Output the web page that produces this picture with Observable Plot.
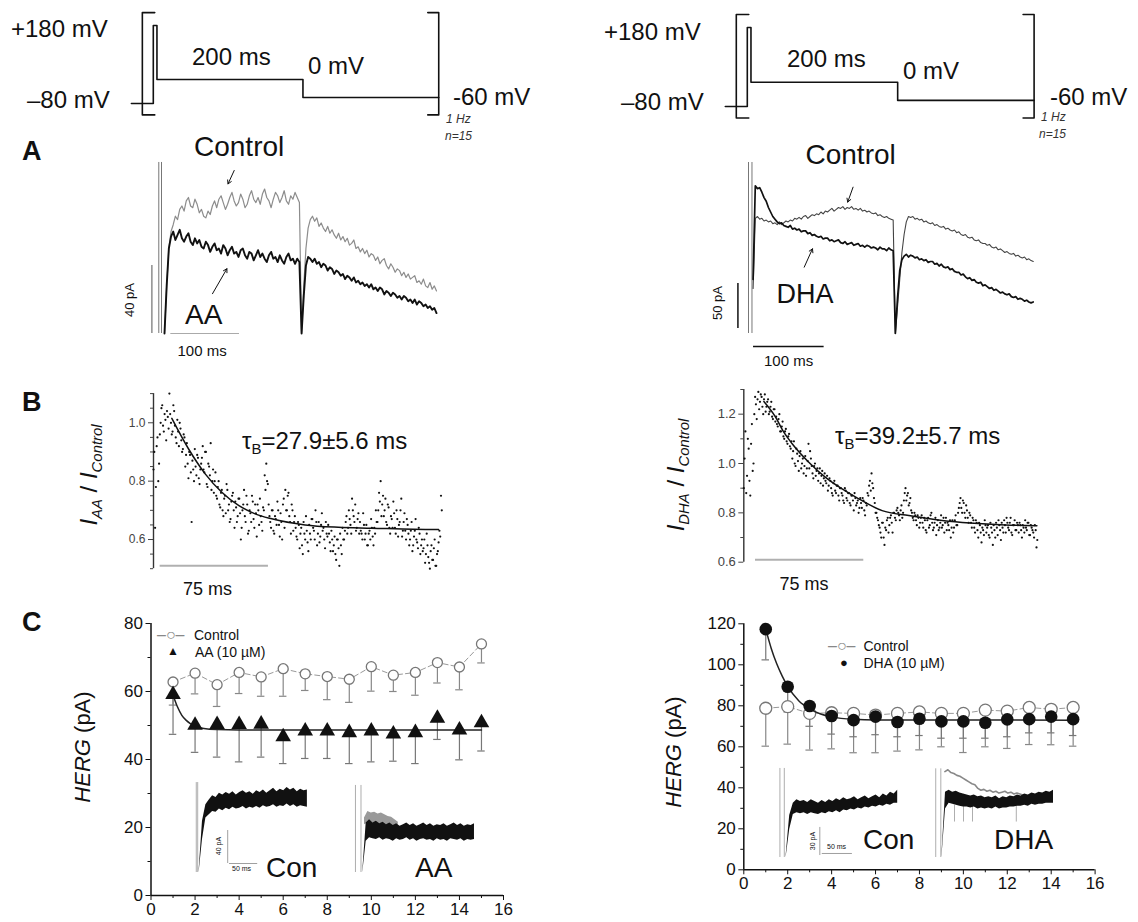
<!DOCTYPE html>
<html>
<head>
<meta charset="utf-8">
<script src="https://cdn.jsdelivr.net/npm/d3@7"></script>
<script src="https://cdn.jsdelivr.net/npm/@observablehq/plot@0.6"></script>
<style>
  html, body { margin: 0; padding: 0; background: #fff; }
  #page { position: relative; width: 1138px; height: 922px; overflow: hidden; background: #fff;
          font-family: "Liberation Sans", Arial, Helvetica, sans-serif; color: #111; }
  #page svg { position: absolute; }
  sub { font-size: 0.62em; vertical-align: -0.35em; line-height: 0; }
</style>
</head>
<body>
<div id="page"></div>
<script>
// ---------------- DATA ----------------
// Voltage protocol (ms, mV)
const protoT  = [-30, 0, 0, 5, 5, 205, 205, 391];
const protoMv = [-80, -80, 180, 180, 0, 0, -60, -60];
const bracketLT = [2, -15, -15, 2];
const bracketRT = [376, 391, 391, 376];
const bracketMv = [223, 223, -118, -118];

// Panel A left: currents (pA), one sample every 3.2 ms
const alDt = 3.2;
const alCtl = [0,28,50,60,64,69,67,73,75,72, 78,80,75,74,79,76,71,73,69,68, 72,70,75,78,74,79,81,77,73,76,
  80,83,78,75,77,82,79,74,76,81, 84,79,77,80,76,82,85,80,78,74, 79,83,81,77,80,84,78,76,81,79, 83,80,77,
  0,
  28,50,62,67,69,66,68,63,65,62, 60,63,59,61,58,56,59,55,57,54, 56,52,53,55,50,51,48,50,47,49,
  45,47,46,43,45,41,43,44,40,38, 41,39,36,38,37,34,36,33,35,32, 33,34,30,31,29,32,28,27,30,26, 28,25];
const alAA = [0,28,50,57,60,55,58,61,56,54, 57,59,54,52,56,53,55,51,50,54, 52,48,51,53,49,50,47,52,50,46,
  49,51,47,48,45,49,50,46,44,48, 47,43,46,49,45,47,44,42,46,48, 44,45,42,46,43,41,45,47,43,44, 41,44,42,
  0,
  22,40,45,44,42,44,41,42,39,41, 40,37,39,38,35,37,36,34,35,32, 34,33,31,33,30,31,29,30,28,29,
  27,29,26,27,25,27,26,23,25,24, 22,24,23,21,22,20,22,21,19,20, 18,20,17,19,18,16,17,15,16,14, 15,12];
const alArtifactT = [-8.4, -4.4];
const alArtifactTop = 100.6;
const alBarPA = [0, 40], alBarPAt = -18.5;
const alBarMs = [9.3, 110.3];
const alArrows = [{x1: 102.5, y1: 95.9, x2: 93.4, y2: 88}, {x1: 70.6, y1: 23.4, x2: 91.8, y2: 38.1}];

// Panel A right: currents (pA), one sample every 3.1 ms
const arDt = 3.1;
const arDHA = [60,164,161,162,157,151,147,140,135,130, 127,124,122,123,120,119,118,120,116,117,
  115,116,113,114,114,111,112,109,110,108, 107,108,105,106,106,103,104,102,103,104,
  101,100,102,99,100,101,98,99,100,97, 98,96,98,97,95,96,95,93,96,94, 94,92,95,93,92,
  0,
  40,70,82,86,88,85,87,86,84,85, 82,83,81,82,79,80,80,77,78,75, 77,74,73,74,71,72,69,68,68,65,
  66,63,61,62,59,60,57,56,57,53, 54,52,50,51,48,49,47,45,46,44, 43,44,41,40,41,38,39,38,36,37, 35,34,35];
const arCtl = [50,128,130,127,128,125,126,124,125,122, 123,121,124,121,123,125,124,126,125,128,
  127,129,127,130,131,128,130,132,131,133, 132,135,133,136,135,137,139,136,138,140,
  139,141,138,140,139,141,138,139,137,139, 136,137,135,136,134,133,134,131,132,130, 129,130,128,127,126,
  0,
  30,60,90,110,124,130,129,130,127,128, 126,127,124,125,123,122,123,120,121,119, 118,119,116,117,115,114,115,112,113,110,
  109,110,107,106,107,104,103,104,101,100, 100,98,99,96,95,96,93,94,92,90, 91,89,88,89,86,87,85,84,85,82, 83,81,80];
const arArtifactT = [-6.5, -1.6];
const arArtifactTop = 190;
const arBarPA = [5.6, 55.6], arBarPAt = -21.5;
const arBarMs = [0.6, 100.6], arBarMsY = -14.4;
const arArrows = [{x1: 141.6, y1: 162.6, x2: 134, y2: 146}, {x1: 72.4, y1: 73.7, x2: 84.1, y2: 94.1}];

// Panel B: I_drug / I_control ratios (two interleaved sample sets, left every 1.1 ms, right every 1.12 ms)
const blDt = 1.1;
const blRatio = [0.84,0.64,0.92,0.80,0.96,1.05,0.99,1.03,0.94,1.02, 1.1,1.0,0.97,1.04,0.95,1.01,0.92,0.98,0.9,0.96,
  0.85,0.93,0.81,0.89,0.66,0.84,0.91,0.82,0.88,0.79, 0.86,0.92,0.83,0.9,0.78,0.85,0.93,0.8,0.76,0.83,
  0.74,0.8,0.71,0.77,0.68,0.75,0.79,0.7,0.66,0.73, 0.76,0.64,0.71,0.68,0.74,0.6,0.7,0.77,0.66,0.72,
  0.63,0.69,0.75,0.67,0.72,0.61,0.7,0.74,0.66,0.71, 0.82,0.86,0.79,0.68,0.64,0.7,0.62,0.67,0.73,0.65,
  0.69,0.6,0.74,0.77,0.7,0.76,0.66,0.72,0.63,0.68, 0.61,0.66,0.57,0.64,0.55,0.62,0.68,0.59,0.65,0.6,
  0.67,0.63,0.7,0.58,0.66,0.61,0.69,0.64,0.57,0.62, 0.65,0.59,0.63,0.56,0.61,0.53,0.6,0.51,0.58,0.64,
  0.6,0.66,0.62,0.7,0.65,0.74,0.68,0.72,0.64,0.69, 0.66,0.62,0.69,0.6,0.65,0.58,0.63,0.67,0.61,0.64,
  0.7,0.66,0.76,0.8,0.72,0.68,0.74,0.65,0.71,0.62, 0.67,0.73,0.64,0.7,0.61,0.66,0.74,0.63,0.69,0.6,
  0.65,0.58,0.63,0.56,0.61,0.67,0.59,0.64,0.55,0.6, 0.57,0.52,0.62,0.54,0.5,0.58,0.53,0.6,0.51,0.56,0.63,0.75];
const blRatioB = [0.9,0.78,0.95,0.86,1.0,1.06,0.97,1.01,1.04,0.98, 1.03,0.96,1.06,0.99,0.93,0.97,1.0,0.94,0.91,0.95,
  0.89,0.86,0.9,0.83,0.87,0.8,0.85,0.89,0.81,0.84, 0.88,0.84,0.9,0.79,0.86,0.82,0.77,0.84,0.8,0.75,
  0.78,0.72,0.76,0.7,0.74,0.69,0.77,0.72,0.67,0.75, 0.7,0.73,0.66,0.74,0.69,0.64,0.72,0.68,0.75,0.62,
  0.7,0.66,0.73,0.64,0.69,0.72,0.65,0.68,0.63,0.7, 0.77,0.8,0.72,0.66,0.7,0.63,0.68,0.65,0.7,0.61,
  0.66,0.72,0.64,0.7,0.75,0.68,0.62,0.7,0.66,0.64, 0.6,0.65,0.62,0.58,0.66,0.6,0.63,0.56,0.62,0.67,
  0.64,0.6,0.66,0.62,0.59,0.65,0.63,0.6,0.66,0.61, 0.62,0.56,0.6,0.58,0.55,0.6,0.57,0.62,0.55,0.6,
  0.63,0.68,0.64,0.67,0.62,0.7,0.66,0.63,0.67,0.62, 0.63,0.6,0.65,0.62,0.58,0.62,0.6,0.64,0.58,0.62,
  0.66,0.7,0.73,0.68,0.75,0.7,0.66,0.72,0.64,0.68, 0.64,0.69,0.62,0.67,0.65,0.7,0.61,0.66,0.63,0.67,
  0.62,0.6,0.66,0.58,0.63,0.6,0.57,0.62,0.58,0.56, 0.6,0.55,0.58,0.52,0.56,0.53,0.57,0.51,0.55,0.59,0.61,0.7];
const blFitT = [12.7, 24.2, 35.8, 47.3, 58.9, 70.4, 81.9, 105, 128, 151, 180, 197.4];
const blFitV = [1.015, 0.911, 0.825, 0.762, 0.717, 0.688, 0.671, 0.65, 0.642, 0.639, 0.635, 0.634];
const blBar = [4.6, 79.6], blBarY = 0.51;

const brDt = 1.12;
const brRatio = [0.9,1.13,0.95,1.06,0.87,1.16,1.0,1.27,1.18,1.29, 1.25,1.27,1.2,1.28,1.23,1.26,1.21,1.25,1.18,1.22,
  1.19,1.15,1.2,1.13,1.17,1.1,1.14,1.08,1.12,1.06, 1.02,1.09,0.99,1.04,0.97,1.05,1.0,0.96,1.03,0.98,
  1.08,1.05,0.99,0.94,1.0,0.97,0.93,0.98,0.95,0.91, 0.96,0.92,0.89,0.94,0.9,0.87,0.93,0.88,0.91,0.85,
  0.9,0.87,0.84,0.89,0.85,0.88,0.83,0.87,0.81,0.86, 0.84,0.8,0.86,0.82,0.85,0.79,0.83,0.87,0.93,0.96,
  0.9,0.84,0.8,0.77,0.74,0.7,0.76,0.67,0.73,0.78, 0.75,0.79,0.72,0.8,0.77,0.82,0.79,0.81,0.78,0.85,
  0.9,0.87,0.83,0.86,0.8,0.77,0.79,0.75,0.78,0.76, 0.79,0.74,0.77,0.72,0.78,0.75,0.8,0.73,0.76,0.71,
  0.77,0.74,0.79,0.75,0.72,0.78,0.76,0.73,0.7,0.77, 0.74,0.79,0.75,0.82,0.86,0.8,0.84,0.78,0.81,0.76,
  0.79,0.74,0.77,0.72,0.76,0.7,0.75,0.68,0.73,0.77, 0.72,0.75,0.7,0.74,0.67,0.73,0.76,0.71,0.75,0.69,
  0.74,0.77,0.72,0.76,0.73,0.78,0.71,0.75,0.73,0.76, 0.72,0.75,0.7,0.74,0.77,0.73,0.76,0.71,0.74,0.72,0.75,0.66];
const brRatioB = [1.02,0.88,1.1,0.93,1.08,0.97,1.2,1.24,1.26,1.22, 1.28,1.23,1.26,1.21,1.25,1.2,1.23,1.19,1.22,1.17,
  1.16,1.18,1.13,1.15,1.11,1.13,1.09,1.11,1.07,1.09, 1.05,1.0,1.06,1.01,1.03,0.98,1.02,0.99,0.95,1.01,
  0.98,1.02,0.96,0.99,0.95,0.98,0.96,0.92,0.97,0.94, 0.93,0.95,0.91,0.93,0.88,0.92,0.89,0.91,0.87,0.9,
  0.88,0.85,0.9,0.86,0.88,0.84,0.87,0.85,0.88,0.83, 0.85,0.82,0.84,0.86,0.81,0.84,0.88,0.91,0.89,0.92,
  0.86,0.8,0.78,0.75,0.72,0.76,0.7,0.74,0.77,0.72, 0.78,0.76,0.8,0.78,0.81,0.8,0.77,0.83,0.8,0.88,
  0.85,0.88,0.84,0.81,0.78,0.8,0.77,0.79,0.74,0.78, 0.76,0.78,0.73,0.77,0.74,0.79,0.76,0.74,0.78,0.75,
  0.73,0.76,0.74,0.78,0.76,0.73,0.75,0.77,0.74,0.72, 0.77,0.75,0.8,0.84,0.82,0.85,0.8,0.83,0.78,0.8,
  0.76,0.78,0.74,0.77,0.73,0.76,0.72,0.74,0.71,0.75, 0.74,0.71,0.76,0.72,0.75,0.7,0.74,0.77,0.73,0.76,
  0.72,0.75,0.78,0.74,0.76,0.72,0.75,0.77,0.73,0.75, 0.76,0.73,0.75,0.72,0.74,0.76,0.71,0.75,0.73,0.7,0.73,0.69];
const brFitT = [13.9, 22, 27.7, 33.5, 45, 56.6, 68.1, 79.6, 95.8, 114.3, 137.4, 181.2, 203];
const brFitV = [1.251, 1.188, 1.127, 1.08, 1.005, 0.944, 0.897, 0.857, 0.809, 0.789, 0.769, 0.751, 0.748];
const brBar = [8.1, 83.1], brBarY = 0.61;

// Panel C: HERG current (pA) per pulse
const pulses = [1,2,3,4,5,6,7,8,9,10,11,12,13,14,15];
const ctlL    = [62.8,65.4,62,65.6,64.3,66.7,65.2,64.4,63.6,67.3,64.8,65.6,68.5,67.2,74];
const ctlLlow = [56,59.3,55.6,59.4,58.6,58.6,60.3,57.6,56.8,60.1,60,58.9,62.5,60.5,68.4];
const aaL     = [59.1,50.1,50.3,50.3,50.4,46.7,48.4,48.4,47.9,48.4,47.5,47.9,52.1,48.7,50.8];
const aaLlow  = [47.4,42.1,40.7,39.3,40.7,38.8,40.3,40.3,38.8,39.3,39.5,38.8,45.9,39.9,42.5];
const aaFitP  = [1, 1.2, 1.4, 1.6, 1.8, 2, 2.4, 3, 4, 15];
const aaFitV  = [59, 55.5, 53, 51.5, 50.5, 49.8, 49.1, 48.8, 48.7, 48.7];

const dhaR    = [117.4,89.3,79.9,75,73,74.7,72.1,73.7,72.4,72.4,71.7,73.4,73.5,74.7,73.5];
const dhaRlow = [102.4,77,70,66.2,64.9,65.9,64.9,65.5,64.2,64.2,64.2,64.9,66.8,66.8,65.5];
const ctlR    = [78.8,79.6,76.3,76.6,76.3,75.5,76.3,77,76.3,76.3,77.9,77.4,79.2,78.3,79.2];
const ctlRlow = [60.3,61.3,58.4,59,57.1,57.1,57.9,58.5,60,57.2,60,59.2,61.1,61,60.3];
const dhaFitP = [1, 1.25, 1.5, 1.75, 2, 2.5, 3, 3.5, 4, 5, 6, 15];
const dhaFitV = [117.4, 108, 100.5, 94.5, 89.5, 82.5, 78.5, 76, 74.6, 73.4, 73.1, 73];

const cTicksXMajor = [0,2,4,6,8,10,12,14,16];
const cTicksXMinor = [1,3,5,7,9,11,13,15];
const cLTicksY = [0,20,40,60,80], cLTicksYMinor = [10,30,50,70];
const cRTicksY = [0,20,40,60,80,100,120], cRTicksYMinor = [10,30,50,70,90,110];
const bLTicks = [0.6,0.8,1.0], bLMinor = [0.5,0.55,0.65,0.7,0.75,0.85,0.9,0.95,1.05,1.1];
const bRTicks = [0.6,0.8,1.0,1.2], bRMinor = [0.7,0.9,1.1,1.3];

// Panel C insets: bands of superimposed sweeps (pA), every 6 ms
const inDt = 6;
const conLHi = [2,62,82,88,93,91,96,94,97,95,98,94,97,99,96,98,95,99,97,100,96,99,102,98,101,99,103,100,102,98,101,99,100];
const conLLo = [0,40,66,70,74,73,77,75,78,76,79,77,78,80,77,79,78,80,78,81,79,80,82,79,81,80,83,80,82,79,81,80,79];
const aaInHi = [2,60,64,60,62,59,61,58,60,57,59,56,58,60,57,59,56,58,60,57,59,56,58,57,59,56,58,60,57,59,56,58,57,59];
const aaInLo = [0,38,42,41,40,42,39,41,40,38,41,39,40,42,39,41,38,40,41,39,40,38,41,39,40,38,41,40,39,41,38,40,39,40];
const aaInCtlHi = [66,74,72,73,71,72,70,68,67,64,61];
const aaInCtlLo = [58,60,59,60,58,59,58,57,57,56,57];
const conRHi = [2,45,58,62,60,61,59,62,60,58,61,59,62,60,63,61,64,62,63,65,62,64,66,63,65,67,64,68,66,70,68,72];
const conRLo = [0,30,46,48,47,48,46,48,47,46,48,47,49,48,50,48,51,50,52,51,53,52,54,53,55,54,56,55,57,56,58,58];
const dhaInHi = [2,70,72,70,71,69,68,67,66,67,65,66,64,65,64,66,63,65,64,66,65,67,66,68,67,69,68,70,69,71,70,72];
const dhaInLo = [0,52,58,57,56,55,54,54,53,54,52,53,52,53,52,54,52,53,53,54,54,55,55,56,55,57,56,57,57,58,58,58];
const dhaInCtl = [92,94,91,90,88,87,85,83,81,79,78,74,72,73,71,72,70,71,69,70,71,69,70,68,69,68,67,66]; // every 5 ms from 5 ms
const dhaInSpikeT = [21, 36, 51, 124];

// ---------------- BUILD ----------------
const W = 1138, H = 922;
const FONT = '"Liberation Sans", Arial, Helvetica, sans-serif';
const page = document.getElementById("page");
const INK = "#111";

function ov(xd, xr, yd, yr, marks) {
  const svg = Plot.plot({
    width: W, height: H, margin: 0,
    x: {domain: xd, range: xr, axis: null},
    y: {domain: yd, range: yr, axis: null},
    style: {background: "transparent", overflow: "visible", left: "0px", top: "0px", fontFamily: FONT},
    marks
  });
  page.appendChild(svg);
}
function sized(left, top, opts) {
  const svg = Plot.plot({...opts, style: {background: "transparent", overflow: "visible", left: left + "px", top: top + "px", fontFamily: FONT, color: INK}});
  page.appendChild(svg);
}
function label(html, left, capTop, size, extra = "") {
  const d = document.createElement("div");
  d.innerHTML = html;
  d.style.cssText = `position:absolute;left:${left}px;top:${capTop - 0.13 * size}px;font-size:${size}px;line-height:1;white-space:nowrap;${extra}`;
  page.appendChild(d);
}
function vlabel(html, cx, cy, size, extra = "") {
  const d = document.createElement("div");
  d.innerHTML = html;
  d.style.cssText = `position:absolute;left:${cx}px;top:${cy}px;font-size:${size}px;line-height:1;white-space:nowrap;transform:translate(-50%,-50%) rotate(-90deg);${extra}`;
  page.appendChild(d);
}

// Protocols
const proto = protoT.map((t, i) => ({t, mv: protoMv[i]}));
const brL = bracketLT.map((t, i) => ({t, mv: bracketMv[i]}));
const brR = bracketRT.map((t, i) => ({t, mv: bracketMv[i]}));
const protoMarks = [
  Plot.line(proto, {x: "t", y: "mv", stroke: INK, strokeWidth: 1.6}),
  Plot.line(brL, {x: "t", y: "mv", stroke: INK, strokeWidth: 1.6}),
  Plot.line(brR, {x: "t", y: "mv", stroke: INK, strokeWidth: 1.6})
];
ov([0, 200], [152.8, 298.8], [-80, 180], [103, 25], protoMarks);
ov([0, 200], [746.8, 893.5], [-80, 180], [106, 27], protoMarks);

// Panel A left
const alData = alCtl.map((v, i) => ({t: i * alDt, ctl: v, aa: alAA[i]}));
ov([0, 100], [164, 232], [0, 40], [333, 265], [
  Plot.ruleX(alArtifactT, {x: d => d, y1: 0, y2: alArtifactTop, stroke: "#777", strokeWidth: 1}),
  Plot.line(alData, {x: "t", y: "ctl", stroke: "#8c8c8c", strokeWidth: 1.2}),
  Plot.line(alData, {x: "t", y: "aa", stroke: INK, strokeWidth: 1.9}),
  Plot.arrow(alArrows, {x1: "x1", y1: "y1", x2: "x2", y2: "y2", stroke: INK, strokeWidth: 1, headLength: 6}),
  Plot.ruleX([alBarPAt], {x: d => d, y1: alBarPA[0], y2: alBarPA[1], stroke: "#555", strokeWidth: 1}),
  Plot.ruleY([0], {x1: alBarMs[0], x2: alBarMs[1], y: d => d, stroke: "#aaa", strokeWidth: 1.2})
]);

// Panel A right
const arData = arCtl.map((v, i) => ({t: i * arDt, ctl: v, dha: arDHA[i]}));
ov([0, 100], [752.6, 823.2], [0, 50], [333, 288], [
  Plot.ruleX(arArtifactT, {x: d => d, y1: 0, y2: arArtifactTop, stroke: "#777", strokeWidth: 1}),
  Plot.line(arData, {x: "t", y: "ctl", stroke: "#444", strokeWidth: 1.1}),
  Plot.line(arData, {x: "t", y: "dha", stroke: INK, strokeWidth: 1.7}),
  Plot.arrow(arArrows, {x1: "x1", y1: "y1", x2: "x2", y2: "y2", stroke: INK, strokeWidth: 1, headLength: 6}),
  Plot.ruleX([arBarPAt], {x: d => d, y1: arBarPA[0], y2: arBarPA[1], stroke: INK, strokeWidth: 1.5}),
  Plot.ruleY([arBarMsY], {x1: arBarMs[0], x2: arBarMs[1], y: d => d, stroke: INK, strokeWidth: 1.5})
]);

// Panel B left
const blData = blRatio.map((v, i) => ({t: i * blDt, v}))
  .concat(blRatioB.map((v, i) => ({t: (i + 0.5) * blDt, v})));
const blFit = blFitT.map((t, i) => ({t, v: blFitV[i]}));
sized(0, 370, {
  width: 470, height: 240, marginLeft: 153, marginRight: 28.2, marginTop: 23.1, marginBottom: 41.8,
  x: {domain: [0, 200], axis: null}, y: {domain: [0.5, 1.1]},
  marks: [
    Plot.axisY(bLTicks, {tickSize: 5, tickPadding: 3, fontSize: 12, tickFormat: ".1f", label: null, color: "#444"}),
    Plot.axisY(bLMinor, {tickSize: 3, tickFormat: () => "", label: null, color: "#444"}),
    Plot.ruleX([0], {y1: 0.5, y2: 1.1, stroke: "#333", strokeWidth: 1.4}),
    Plot.ruleY([blBarY], {x1: blBar[0], x2: blBar[1], stroke: "#b0b0b0", strokeWidth: 2}),
    Plot.dot(blData, {x: "t", y: "v", r: 1.1, fill: INK, stroke: null}),
    Plot.line(blFit, {x: "t", y: "v", stroke: INK, strokeWidth: 1.5, curve: "monotone-x"})
  ]
});

// Panel B right
const brData = brRatio.map((v, i) => ({t: i * brDt, v}))
  .concat(brRatioB.map((v, i) => ({t: (i + 0.5) * brDt, v})));
const brFit = brFitT.map((t, i) => ({t, v: brFitV[i]}));
sized(570, 370, {
  width: 480, height: 240, marginLeft: 173.3, marginRight: 13.6, marginTop: 19, marginBottom: 48.3,
  x: {domain: [0, 203], axis: null}, y: {domain: [0.6, 1.3]},
  marks: [
    Plot.axisY(bRTicks, {tickSize: 5, tickPadding: 3, fontSize: 13, tickFormat: ".1f", label: null, color: "#444"}),
    Plot.axisY(bRMinor, {tickSize: 3, tickFormat: () => "", label: null, color: "#444"}),
    Plot.ruleX([0], {y1: 0.6, y2: 1.3, stroke: "#333", strokeWidth: 1.4}),
    Plot.ruleY([brBarY], {x1: brBar[0], x2: brBar[1], stroke: "#b0b0b0", strokeWidth: 2}),
    Plot.dot(brData, {x: "t", y: "v", r: 1.1, fill: INK, stroke: null}),
    Plot.line(brFit, {x: "t", y: "v", stroke: INK, strokeWidth: 1.5, curve: "monotone-x"})
  ]
});

// Panel C left
const cl = pulses.map((p, i) => ({p, ctl: ctlL[i], ctlLo: ctlLlow[i], aa: aaL[i], aaLo: aaLlow[i]}));
const clFit = aaFitP.map((p, i) => ({p, v: aaFitV[i]}));
sized(0, 600, {
  width: 520, height: 322, marginLeft: 150.5, marginRight: 17, marginTop: 23, marginBottom: 27,
  x: {domain: [0, 16]}, y: {domain: [0, 80]},
  marks: [
    Plot.axisX(cTicksXMajor, {tickSize: 5, tickPadding: 2, fontSize: 17, label: null}),
    Plot.axisX(cTicksXMinor, {tickSize: 3, tickFormat: () => "", label: null}),
    Plot.axisY(cLTicksY, {tickSize: 5, tickPadding: 3, fontSize: 17, label: null}),
    Plot.axisY(cLTicksYMinor, {tickSize: 3, tickFormat: () => "", label: null}),
    Plot.ruleX([0], {y1: 0, y2: 80, stroke: INK, strokeWidth: 1.5}),
    Plot.ruleY([0], {x1: 0, x2: 16, stroke: INK, strokeWidth: 1.5}),
    Plot.ruleX(cl, {x: "p", y1: "ctlLo", y2: "ctl", stroke: "#888", strokeWidth: 1.2}),
    Plot.ruleY(cl, {x1: d => d.p - 0.17, x2: d => d.p + 0.17, y: "ctlLo", stroke: "#888", strokeWidth: 1.2}),
    Plot.ruleX(cl, {x: "p", y1: "aaLo", y2: "aa", stroke: "#777", strokeWidth: 1.2}),
    Plot.ruleY(cl, {x1: d => d.p - 0.17, x2: d => d.p + 0.17, y: "aaLo", stroke: "#777", strokeWidth: 1.2}),
    Plot.line(cl, {x: "p", y: "ctl", stroke: "#999", strokeWidth: 1, strokeDasharray: "5,3"}),
    Plot.dot(cl, {x: "p", y: "ctl", r: 5, fill: "#fff", stroke: "#777", strokeWidth: 1.3}),
    Plot.line(clFit, {x: "p", y: "v", stroke: "#222", strokeWidth: 1.5, curve: "monotone-x"}),
    Plot.dot(cl, {x: "p", y: "aa", r: 5.8, symbol: "triangle", fill: INK, stroke: null})
  ]
});

// Panel C right
const cr = pulses.map((p, i) => ({p, ctl: ctlR[i], ctlLo: ctlRlow[i], dha: dhaR[i], dhaLo: dhaRlow[i]}));
const crFit = dhaFitP.map((p, i) => ({p, v: dhaFitV[i]}));
sized(570, 600, {
  width: 540, height: 322, marginLeft: 173.3, marginRight: 15.4, marginTop: 23.3, marginBottom: 52.7,
  x: {domain: [0, 16]}, y: {domain: [0, 120]},
  marks: [
    Plot.axisX(cTicksXMajor, {tickSize: 5, tickPadding: 2, fontSize: 17, label: null}),
    Plot.axisX(cTicksXMinor, {tickSize: 3, tickFormat: () => "", label: null}),
    Plot.axisY(cRTicksY, {tickSize: 5, tickPadding: 3, fontSize: 17, label: null}),
    Plot.axisY(cRTicksYMinor, {tickSize: 3, tickFormat: () => "", label: null}),
    Plot.ruleX([0], {y1: 0, y2: 120, stroke: INK, strokeWidth: 1.5}),
    Plot.ruleY([0], {x1: 0, x2: 16, stroke: INK, strokeWidth: 1.5}),
    Plot.ruleX(cr, {x: "p", y1: "ctlLo", y2: "ctl", stroke: "#888", strokeWidth: 1.2}),
    Plot.ruleY(cr, {x1: d => d.p - 0.17, x2: d => d.p + 0.17, y: "ctlLo", stroke: "#888", strokeWidth: 1.2}),
    Plot.ruleX(cr, {x: "p", y1: "dhaLo", y2: "dha", stroke: "#777", strokeWidth: 1.2}),
    Plot.ruleY(cr, {x1: d => d.p - 0.17, x2: d => d.p + 0.17, y: "dhaLo", stroke: "#777", strokeWidth: 1.2}),
    Plot.line(cr, {x: "p", y: "ctl", stroke: "#999", strokeWidth: 1, strokeDasharray: "5,3"}),
    Plot.dot(cr, {x: "p", y: "ctl", r: 6, fill: "#fff", stroke: "#777", strokeWidth: 1.3}),
    Plot.line(crFit, {x: "p", y: "v", stroke: "#222", strokeWidth: 1.5, curve: "monotone-x"}),
    Plot.dot(cr, {x: "p", y: "dha", r: 6.3, fill: INK, stroke: null})
  ]
});

// Insets in C
const band = (hi, lo, t0 = 0, dt = inDt) => hi.map((h, i) => ({t: t0 + i * dt, hi: h, lo: lo[i]}));
ov([0, 50], [198.6, 226.8], [0, 40], [872, 839], [
  Plot.ruleX([-5, -2.5], {x: d => d, y1: 0, y2: 109, stroke: "#999", strokeWidth: 0.8}),
  Plot.areaY(band(conLHi, conLLo), {x: "t", y1: "lo", y2: "hi", fill: INK}),
  Plot.ruleX([50.7], {x: d => d, y1: 10.9, y2: 50.9, stroke: "#888", strokeWidth: 0.8}),
  Plot.ruleY([10.9], {x1: 53.9, x2: 103.9, y: d => d, stroke: "#888", strokeWidth: 0.8})
]);
ov([0, 50], [362.3, 390.5], [0, 40], [872, 839], [
  Plot.ruleX([-13, -3.2], {x: d => d, y1: 0, y2: 105.5, stroke: "#999", strokeWidth: 0.8}),
  Plot.areaY(band(aaInCtlHi, aaInCtlLo, 3), {x: "t", y1: "lo", y2: "hi", fill: "#9a9a9a"}),
  Plot.areaY(band(aaInHi, aaInLo), {x: "t", y1: "lo", y2: "hi", fill: INK})
]);
ov([0, 50], [785.6, 815.6], [0, 30], [857, 829], [
  Plot.ruleX([-10.3, -3], {x: d => d, y1: 0, y2: 95.4, stroke: "#999", strokeWidth: 0.8}),
  Plot.areaY(band(conRHi, conRLo), {x: "t", y1: "lo", y2: "hi", fill: INK}),
  Plot.ruleX([56.2], {x: d => d, y1: 2.1, y2: 32.2, stroke: "#888", strokeWidth: 0.8}),
  Plot.ruleY([4.3], {x1: 60.3, x2: 110.5, y: d => d, stroke: "#888", strokeWidth: 0.8})
]);
const dhaCtlLine = dhaInCtl.map((v, i) => ({t: 5 + i * 5, v}));
ov([0, 50], [941.4, 971.4], [0, 30], [857, 829], [
  Plot.ruleX([-10.3, -1.8], {x: d => d, y1: 0, y2: 95, stroke: "#999", strokeWidth: 0.8}),
  Plot.line(dhaCtlLine, {x: "t", y: "v", stroke: "#888", strokeWidth: 1.6}),
  Plot.ruleX(dhaInSpikeT, {x: d => d, y1: 38, y2: 56, stroke: "#999", strokeWidth: 0.8}),
  Plot.areaY(band(dhaInHi, dhaInLo), {x: "t", y1: "lo", y2: "hi", fill: INK})
]);

// ---------------- TEXT ----------------
label("+180 mV", 11, 20, 24);
label("–80 mV", 27, 91, 24);
label("200 ms", 192, 48, 24);
label("0 mV", 308, 57, 24);
label("-60 mV", 453, 88, 24);
label("1 Hz", 446, 115, 12, "font-style:italic;color:#333");
label("n=15", 445, 132, 12, "font-style:italic;color:#333");
label("+180 mV", 604, 23, 24);
label("–80 mV", 621, 93, 24);
label("200 ms", 787, 50, 24);
label("0 mV", 903, 62, 24);
label("-60 mV", 1050, 88, 24);
label("1 Hz", 1041, 113, 12, "font-style:italic;color:#333");
label("n=15", 1039, 130, 12, "font-style:italic;color:#333");

label("A", 22, 142, 27, "font-weight:bold");
label("Control", 194, 137, 28);
label("AA", 185, 305, 28);
vlabel("40 pA", 128.5, 300, 13);
label("100 ms", 177.5, 345, 15);
label("Control", 805.5, 145, 28);
label("DHA", 776.5, 285, 27);
vlabel("50 pA", 716.5, 303, 13);
label("100 ms", 764, 355, 15);

label("B", 22, 393, 27, "font-weight:bold");
vlabel("<i>I</i><sub><i>AA</i></sub> / <i>I</i><sub><i>Control</i></sub>", 88.5, 475, 24);
vlabel("<i>I</i><sub><i>DHA</i></sub> / <i>I</i><sub><i>Control</i></sub>", 676, 475, 24);
label("75 ms", 183, 582, 18);
label("75 ms", 779.4, 577, 18);
label("τ<sub>B</sub>=27.9±5.6 ms", 242, 432, 24);
label("τ<sub>B</sub>=39.2±5.7 ms", 835, 427, 24);

label("C", 22, 613, 27, "font-weight:bold");
vlabel("<i>HERG</i> (pA)", 83.4, 746.5, 22);
vlabel("<i>HERG</i> (pA)", 674, 752, 22);
label("–○–", 157, 629, 16, "color:#888");
label("Control", 194, 630, 14);
label("▲", 167, 647, 12);
label("AA (10 µM)", 195, 647, 14);
label("–○–", 828, 640, 16, "color:#888");
label("Control", 863.5, 641, 14);
label("●", 840, 658, 13);
label("DHA (10 µM)", 863.5, 658, 14);
label("Con", 266, 858, 28);
label("AA", 415, 858, 28);
label("Con", 863, 830, 28);
label("DHA", 994, 830, 28);
vlabel("40 pA", 218, 846, 7);
label("50 ms", 232, 866, 7);
vlabel("30 pA", 812, 841, 7);
label("50 ms", 827, 844, 7);
</script>
</body>
</html>
